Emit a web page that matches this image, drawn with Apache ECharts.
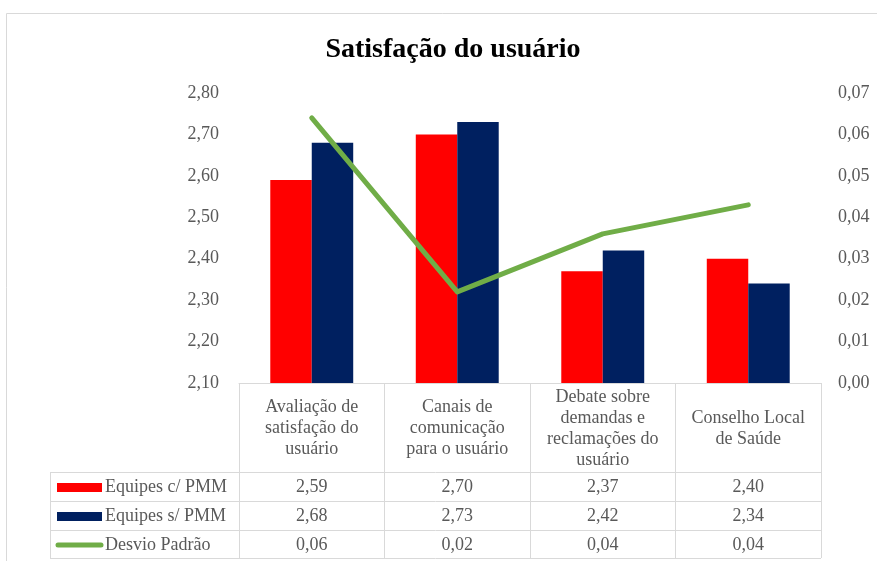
<!DOCTYPE html>
<html>
<head>
<meta charset="utf-8">
<script src="https://cdn.jsdelivr.net/npm/echarts@6/dist/echarts.min.js"></script>
<style>
  html, body { margin: 0; padding: 0; background: #fff; }
  #container { width: 877px; height: 561px; }
</style>
</head>
<body>
<div id="container"></div>
<script>
const categories = [
  "Avaliação de\nsatisfação do\nusuário",
  "Canais de\ncomunicação\npara o usuário",
  "Debate sobre\ndemandas e\nreclamações do\nusuário",
  "Conselho Local\nde Saúde",
];
const comPMM = [2.59, 2.70, 2.37, 2.40];
const semPMM = [2.68, 2.73, 2.42, 2.34];
const desvioPadrao = [0.064, 0.022, 0.036, 0.043];
const leftTicks = { min: 2.1, max: 2.8, interval: 0.1 };
const rightTicks = { min: 0, max: 0.07, interval: 0.01 };

const FONT = "Liberation Serif";
const fmt = (v) => v.toFixed(2).replace(".", ",");

const gridTop = 93, gridBottomY = 383, gridLeft = 239, gridRight = 821;
const rowLines = [472, 501, 530, 558];
const tableLeft = 50;

const chart = echarts.init(document.getElementById("container"));

const option = {
  animation: false,
  title: {
    text: "Satisfação do usuário",
    left: 448,
    top: 31,
    textAlign: "center",
    textStyle: { fontFamily: FONT, fontSize: 28, fontWeight: "bold", color: "#000" },
  },
  grid: { left: gridLeft, right: 877 - gridRight, top: gridTop, bottom: 561 - gridBottomY },
  xAxis: {
    type: "category",
    data: categories,
    axisLine: { show: true, lineStyle: { color: "#d9d9d9", width: 1 } },
    axisTick: { show: true, length: 558 - gridBottomY, lineStyle: { color: "#d9d9d9" } },
    axisLabel: { show: false },
  },
  yAxis: [
    {
      type: "value",
      min: leftTicks.min, max: leftTicks.max, interval: leftTicks.interval,
      splitLine: { show: false },
      axisLine: { show: false },
      axisLabel: { formatter: fmt, fontFamily: FONT, fontSize: 18, color: "#595959", margin: 20 },
    },
    {
      type: "value",
      min: rightTicks.min, max: rightTicks.max, interval: rightTicks.interval,
      splitLine: { show: false },
      axisLine: { show: false },
      axisLabel: { formatter: fmt, fontFamily: FONT, fontSize: 18, color: "#595959", margin: 17 },
    },
  ],
  series: [
    {
      name: "Equipes c/ PMM", type: "bar", data: comPMM,
      barWidth: "28.5%", barGap: "0%",
      itemStyle: { color: "#ff0000" },
    },
    {
      name: "Equipes s/ PMM", type: "bar", data: semPMM,
      barWidth: "28.5%", barGap: "0%",
      itemStyle: { color: "#002060" },
    },
    {
      name: "Desvio Padrão", type: "line", data: desvioPadrao, yAxisIndex: 1,
      symbol: "none",
      lineStyle: { color: "#70ad47", width: 5, cap: "round", join: "round" },
      itemStyle: { color: "#70ad47" },
    },
  ],
};
chart.setOption(option);

// data table under the plot
const graphics = [];
graphics.push({
  type: "rect", silent: true,
  shape: { x: 6.5, y: 13.5, width: 880, height: 560 },
  style: { fill: "none", stroke: "#d9d9d9", lineWidth: 1 },
});
rowLines.forEach((y) => {
  graphics.push({
    type: "line", silent: true,
    shape: { x1: tableLeft, y1: y + 0.5, x2: gridRight, y2: y + 0.5 },
    style: { stroke: "#d9d9d9", lineWidth: 1 },
  });
});
graphics.push({
  type: "line", silent: true,
  shape: { x1: tableLeft + 0.5, y1: rowLines[0], x2: tableLeft + 0.5, y2: rowLines[3] },
  style: { stroke: "#d9d9d9", lineWidth: 1 },
});

categories.forEach((c, i) => {
  const cx = chart.convertToPixel({ xAxisIndex: 0 }, i);
  graphics.push({
    type: "text", silent: true, x: cx, y: (gridBottomY + rowLines[0]) / 2 + 1,
    style: {
      text: c, fontFamily: FONT, fontSize: 18, fill: "#595959",
      align: "center", verticalAlign: "middle", lineHeight: 21,
    },
  });
});

const rows = [
  { name: "Equipes c/ PMM", values: comPMM, color: "#ff0000", kind: "rect" },
  { name: "Equipes s/ PMM", values: semPMM, color: "#002060", kind: "rect" },
  { name: "Desvio Padrão", values: desvioPadrao, color: "#70ad47", kind: "line" },
];
rows.forEach((r, ri) => {
  const cy = (rowLines[ri] + rowLines[ri + 1]) / 2 + 1;
  if (r.kind === "rect") {
    graphics.push({
      type: "rect", silent: true,
      shape: { x: 57, y: cy - 4.5, width: 45, height: 9 },
      style: { fill: r.color },
    });
  } else {
    graphics.push({
      type: "line", silent: true,
      shape: { x1: 58, y1: cy, x2: 101, y2: cy },
      style: { stroke: r.color, lineWidth: 5, lineCap: "round" },
    });
  }
  graphics.push({
    type: "text", silent: true, x: 105, y: cy,
    style: { text: r.name, fontFamily: FONT, fontSize: 18, fill: "#595959", align: "left", verticalAlign: "middle" },
  });
  r.values.forEach((v, i) => {
    const cx = chart.convertToPixel({ xAxisIndex: 0 }, i);
    graphics.push({
      type: "text", silent: true, x: cx, y: cy,
      style: { text: fmt(v), fontFamily: FONT, fontSize: 18, fill: "#595959", align: "center", verticalAlign: "middle" },
    });
  });
});

chart.setOption({ graphic: graphics });
</script>
</body>
</html>
